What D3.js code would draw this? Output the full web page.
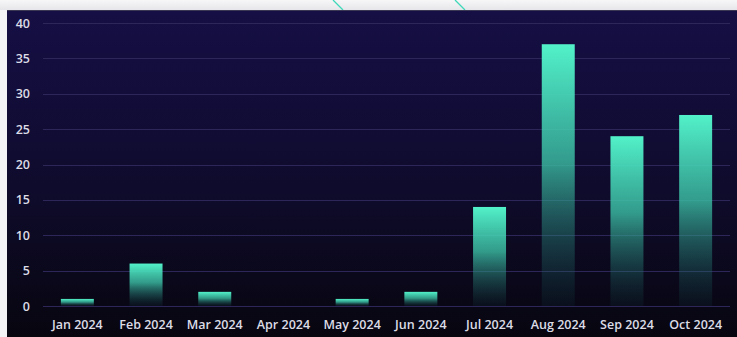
<!DOCTYPE html>
<html><head><meta charset="utf-8">
<script src="https://cdn.jsdelivr.net/npm/d3@7/dist/d3.min.js"></script>
<style>html,body{margin:0;padding:0;background:#f4f4f6;overflow:hidden}</style>
</head><body>
<svg id="c" width="737" height="337"></svg>
<script>
const categories = ["Jan 2024","Feb 2024","Mar 2024","Apr 2024","May 2024","Jun 2024","Jul 2024","Aug 2024","Sep 2024","Oct 2024"];
const values = [1,6,2,0,1,2,14,37,24,27];
const yTicks = [0,5,10,15,20,25,30,35,40];

const W = 737, H = 337;
const svg = d3.select("#c");
const defs = svg.append("defs");

const bg = defs.append("linearGradient").attr("id","bg").attr("x1",0).attr("y1",0).attr("x2",0).attr("y2",1);
bg.append("stop").attr("offset","0%").attr("stop-color","#150f45");
bg.append("stop").attr("offset","55%").attr("stop-color","#0f0b2c");
bg.append("stop").attr("offset","100%").attr("stop-color","#07060f");

const topGrad = defs.append("linearGradient").attr("id","topbg").attr("x1",0).attr("y1",0).attr("x2",0).attr("y2",1);
topGrad.append("stop").attr("offset","0%").attr("stop-color","#f7f7f8");
topGrad.append("stop").attr("offset","100%").attr("stop-color","#e6e6ea");

const barGrad = defs.append("linearGradient").attr("id","bar").attr("x1",0).attr("y1",0).attr("x2",0).attr("y2",1);
barGrad.append("stop").attr("offset","0%").attr("stop-color","#52f2ca").attr("stop-opacity",1);
barGrad.append("stop").attr("offset","45%").attr("stop-color","#3cc0a5").attr("stop-opacity",0.8);
barGrad.append("stop").attr("offset","100%").attr("stop-color","#164c50").attr("stop-opacity",0.12);

svg.append("rect").attr("x",0).attr("y",0).attr("width",W).attr("height",H).attr("fill","#f4f4f6");
svg.append("rect").attr("x",0).attr("y",0).attr("width",W).attr("height",10).attr("fill","url(#topbg)");
// decorative lines
svg.append("line").attr("x1",333).attr("y1",0).attr("x2",343).attr("y2",10).attr("stroke","#3fd8b8").attr("stroke-width",1.3);
svg.append("line").attr("x1",455).attr("y1",0).attr("x2",465).attr("y2",10).attr("stroke","#3fd8b8").attr("stroke-width",1.3);

svg.append("rect").attr("x",7).attr("y",10).attr("width",W-7).attr("height",H-10).attr("fill","url(#bg)");
svg.append("line").attr("x1",7).attr("y1",10.5).attr("x2",W).attr("y2",10.5).attr("stroke","#3a3852").attr("stroke-width",1);

const x = d3.scaleBand().domain(categories).range([43,730]).paddingInner(0.52).paddingOuter(0.26);
const y = d3.scaleLinear().domain([0,40]).range([306,23]);

// grid
svg.append("g").selectAll("line").data(yTicks).join("line")
  .attr("x1",43).attr("x2",730)
  .attr("y1",d=>Math.round(y(d))+0.5).attr("y2",d=>Math.round(y(d))+0.5)
  .attr("stroke","#2c2758").attr("stroke-width",1);

// bars
svg.append("g").selectAll("rect").data(values).join("rect")
  .attr("x",(d,i)=>x(categories[i]))
  .attr("width",x.bandwidth())
  .attr("y",d=>y(d))
  .attr("height",d=>y(0)-y(d))
  .attr("fill","url(#bar)");

const font = "'Open Sans', sans-serif";
// y axis
const ya = d3.axisLeft(y).tickValues(yTicks).tickSize(0).tickPadding(0);
const yg = svg.append("g").attr("transform","translate(30,0)").call(ya);
yg.select(".domain").remove();
yg.selectAll("text").attr("fill","#dcdce6").style("font-family",font).style("font-size","12.5px").style("font-weight","600");

// x axis
const xa = d3.axisBottom(x).tickSize(0).tickPadding(0);
const xg = svg.append("g").attr("transform","translate(0,320)").call(xa);
xg.select(".domain").remove();
xg.selectAll("text").attr("fill","#dcdce6").style("font-family",font).style("font-size","12.5px").style("font-weight","600");
</script>
</body></html>
